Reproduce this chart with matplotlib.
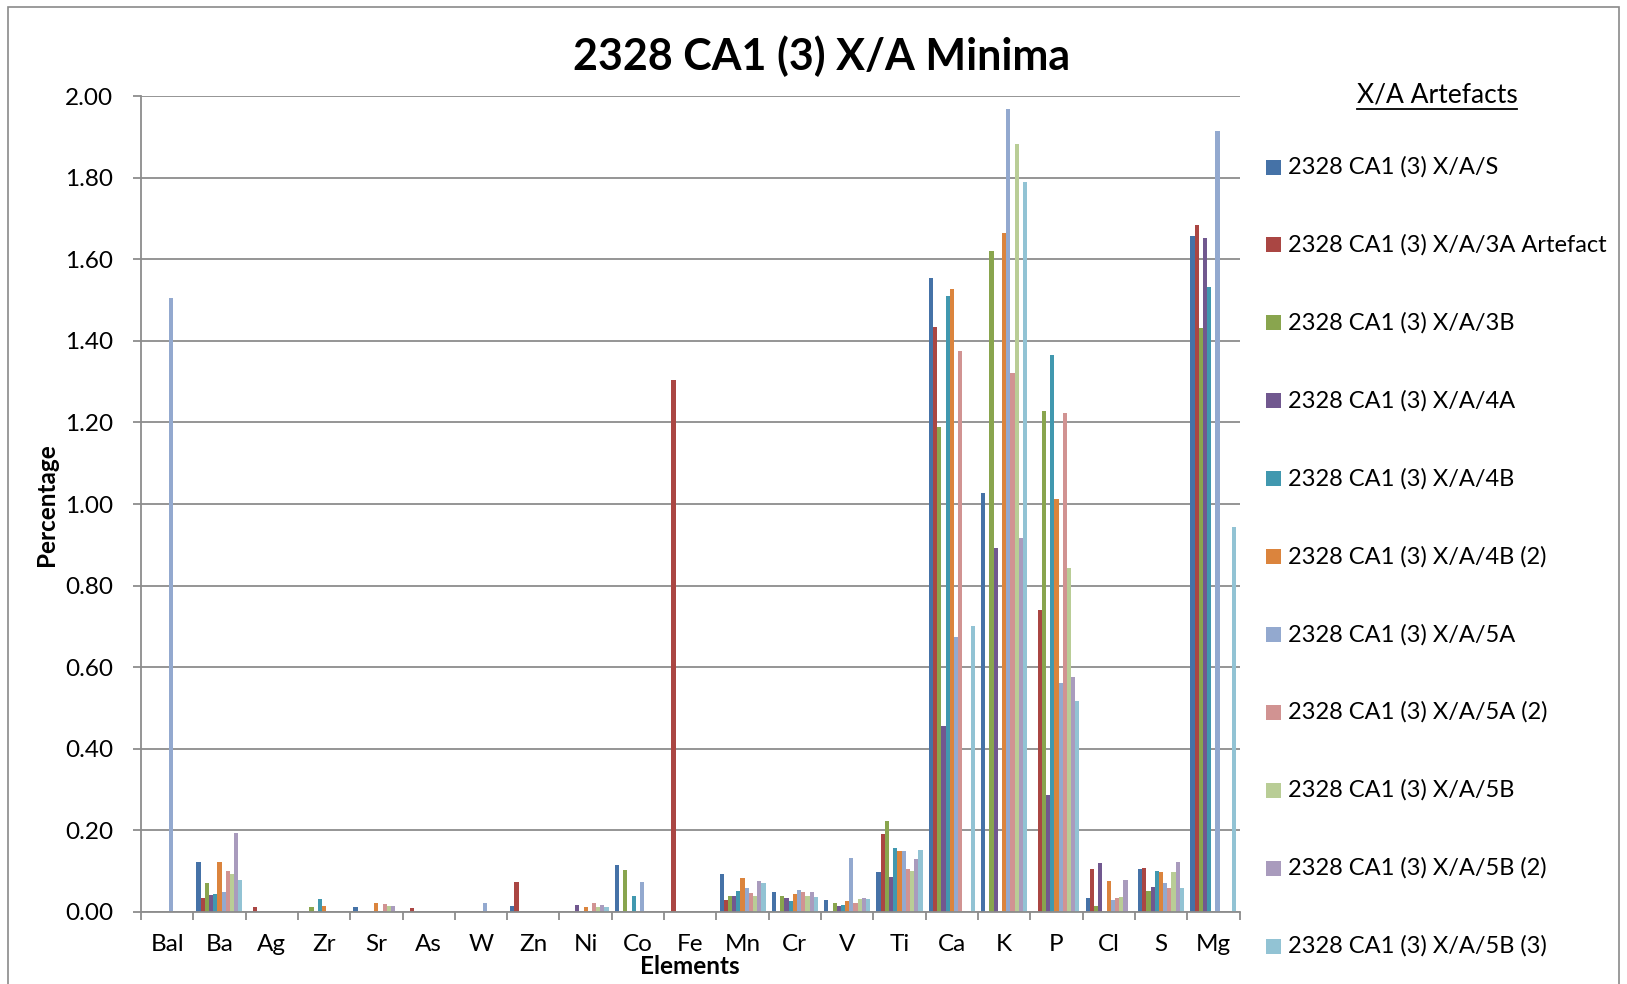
import numpy as np
import matplotlib.pyplot as plt
from matplotlib.patches import Rectangle
from matplotlib.lines import Line2D

plt.rcParams['font.family'] = ['Lato', 'DejaVu Sans']

elements = ['Bal', 'Ba', 'Ag', 'Zr', 'Sr', 'As', 'W', 'Zn', 'Ni', 'Co', 'Fe',
            'Mn', 'Cr', 'V', 'Ti', 'Ca', 'K', 'P', 'Cl', 'S', 'Mg']

series_names = ['2328 CA1 (3) X/A/S', '2328 CA1 (3) X/A/3A Artefact',
                '2328 CA1 (3) X/A/3B', '2328 CA1 (3) X/A/4A',
                '2328 CA1 (3) X/A/4B', '2328 CA1 (3) X/A/4B (2)',
                '2328 CA1 (3) X/A/5A', '2328 CA1 (3) X/A/5A (2)',
                '2328 CA1 (3) X/A/5B', '2328 CA1 (3) X/A/5B (2)',
                '2328 CA1 (3) X/A/5B (3)']

colors = ['#4572A7', '#AA4643', '#89A54E', '#71588F', '#4198AF', '#DB843D',
          '#93A9CF', '#D19392', '#B9CD96', '#A99BBD', '#92C3D4']

#          Bal    Ba     Ag     Zr     Sr     As     W      Zn     Ni     Co     Fe     Mn     Cr     V      Ti     Ca     K      P      Cl     S      Mg
xa_s   = [0,     0.122, 0,     0,     0.012, 0,     0,     0.015, 0,     0.115, 0,     0.092, 0.048, 0.030, 0.099, 1.554, 1.027, 0,     0.035, 0.106, 1.658]
xa_3a  = [0,     0.035, 0.012, 0,     0,     0.011, 0,     0.074, 0,     0,     1.303, 0.029, 0,     0,     0.191, 1.433, 0,     0.740, 0.105, 0.109, 1.683]
xa_3b  = [0,     0.070, 0,     0.012, 0,     0,     0,     0,     0,     0.103, 0,     0.040, 0.038, 0.021, 0.223, 1.189, 1.621, 1.229, 0.015, 0.052, 1.432]
xa_4a  = [0,     0.041, 0,     0,     0,     0,     0,     0,     0.018, 0,     0,     0.040, 0.035, 0.015, 0.086, 0.456, 0.893, 0.286, 0.119, 0.062, 1.653]
xa_4b  = [0,     0.043, 0,     0.031, 0,     0,     0,     0,     0,     0.038, 0,     0.051, 0.026, 0.016, 0.157, 1.510, 0,     1.365, 0,     0.100, 1.533]
xa_4b2 = [0,     0.122, 0,     0.015, 0.023, 0,     0,     0,     0.012, 0,     0,     0.084, 0.044, 0.026, 0.150, 1.527, 1.665, 1.013, 0.075, 0.097, 0]
xa_5a  = [1.505, 0.049, 0,     0,     0,     0,     0.023, 0,     0,     0.074, 0,     0.058, 0.053, 0.132, 0.150, 0.675, 1.967, 0.562, 0.030, 0.071, 1.915]
xa_5a2 = [0,     0.100, 0,     0,     0.019, 0,     0,     0,     0.021, 0,     0,     0.046, 0.048, 0.021, 0.105, 1.376, 1.320, 1.224, 0.034, 0.060, 0]
xa_5b  = [0,     0.092, 0,     0,     0.014, 0,     0,     0,     0.012, 0,     0,     0.038, 0.039, 0.033, 0.100, 0,     1.882, 0.842, 0.036, 0.098, 0]
xa_5b2 = [0,     0.194, 0,     0,     0.014, 0,     0,     0,     0.018, 0,     0,     0.077, 0.049, 0.035, 0.130, 0,     0.917, 0.575, 0.078, 0.123, 0]
xa_5b3 = [0,     0.078, 0,     0,     0,     0,     0,     0,     0.012, 0,     0,     0.070, 0.036, 0.031, 0.151, 0.700, 1.789, 0.518, 0,     0.060, 0.944]

all_series = [xa_s, xa_3a, xa_3b, xa_4a, xa_4b, xa_4b2, xa_5a, xa_5a2, xa_5b, xa_5b2, xa_5b3]

W, H = 1627, 984
fig = plt.figure(figsize=(W / 100, H / 100), dpi=100)

# outer chart border
fig.patches.append(Rectangle((8 / W, -0.01), (1619 - 8) / W, 1 - 7 / H + 0.01,
                             transform=fig.transFigure, fill=False,
                             edgecolor='#8A8A8A', linewidth=1.2))

left, right, top, bottom = 141, 1239.5, 96, 912
ax = fig.add_axes([left / W, 1 - bottom / H, (right - left) / W, (bottom - top) / H])

grid_c = '#8C8C8C'
n = len(all_series)
bw = 0.08
x = np.arange(len(elements))
for i, (vals, c) in enumerate(zip(all_series, colors)):
    ax.bar(x + (i - (n - 1) / 2) * bw, vals, width=bw, color=c, linewidth=0)

ax.set_xlim(-0.5, len(elements) - 0.5)
ax.set_ylim(0, 2.0)
ax.set_yticks(np.arange(0, 2.01, 0.2))
ax.set_yticklabels(['%.2f' % v for v in np.arange(0, 2.01, 0.2)], fontsize=17.5)
ax.yaxis.grid(True, color=grid_c, linewidth=1.3)
ax.set_axisbelow(True)

ax.set_xticks(x)
ax.set_xticklabels(elements, fontsize=17.5)
ax.set_xticks(np.arange(-0.5, len(elements)), minor=True)
ax.tick_params(axis='x', which='major', length=0, pad=16)
ax.tick_params(axis='x', which='minor', length=6, color=grid_c, width=1.3)
ax.tick_params(axis='y', length=6, color=grid_c, width=1.3, pad=14)

for s in ['top', 'right']:
    ax.spines[s].set_visible(False)
for s in ['left', 'bottom']:
    ax.spines[s].set_color(grid_c)
    ax.spines[s].set_linewidth(1.3)

fig.text(46 / W, 1 - 505 / H, 'Percentage', fontsize=17.5, fontweight='bold',
         rotation=90, ha='center', va='center')
fig.text(690 / W, 1 - 967 / H, 'Elements', fontsize=17.5, fontweight='bold',
         ha='center', va='center')

fig.text(822 / W, 1 - 56 / H, '2328 CA1 (3) X/A Minima', fontsize=31,
         fontweight='bold', ha='center', va='center')

# legend
leg_title = fig.text(1437 / W, 1 - 95 / H, 'X/A Artefacts', fontsize=19,
                     ha='center', va='center')
for i, (name, c) in enumerate(zip(series_names, colors)):
    yc = 167 + i * 77.9
    fig.patches.append(Rectangle((1266 / W, 1 - (yc + 7.5) / H), 15 / W, 15 / H,
                                 transform=fig.transFigure, facecolor=c,
                                 edgecolor='none'))
    fig.text(1288 / W, 1 - yc / H, name, fontsize=17, ha='left', va='center')

fig.canvas.draw()
bb = leg_title.get_window_extent().transformed(fig.transFigure.inverted())
fig.lines.append(Line2D([bb.x0, bb.x1], [bb.y0 - 0.002, bb.y0 - 0.002],
                        transform=fig.transFigure, color='black', linewidth=1.3))

fig.savefig('out.png', dpi=100)
